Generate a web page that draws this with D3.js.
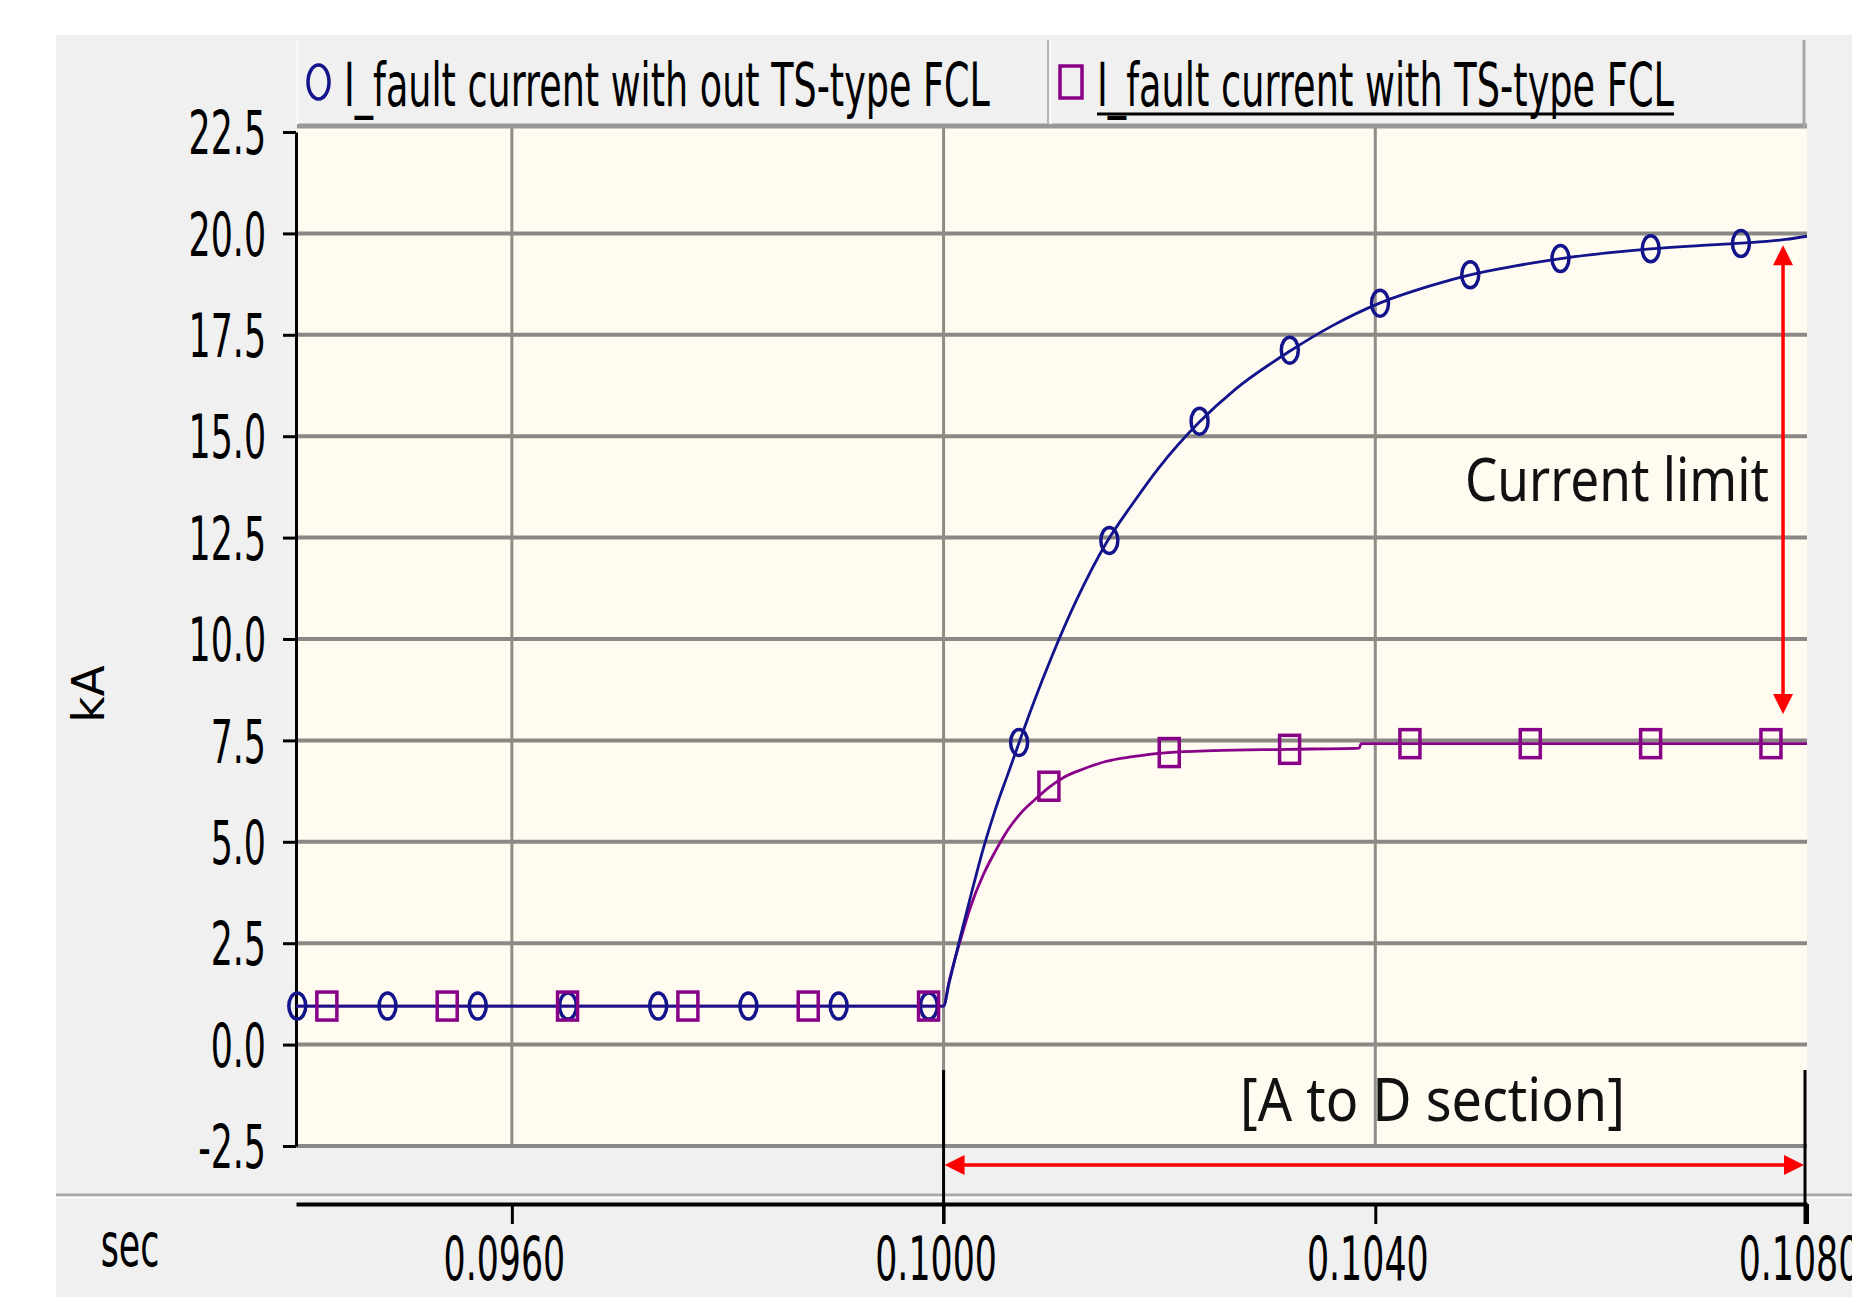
<!DOCTYPE html>
<html>
<head>
<meta charset="utf-8">
<script src="https://cdn.jsdelivr.net/npm/d3@7/dist/d3.min.js"></script>
<style>
  body { margin: 0; background: #fff; }
  svg { display: block; }
</style>
</head>
<body>
<div id="chart"></div>
<script>
const width = 1852;
const height = 1297;

// axis ticks
const yTicks = [-2.5, 0.0, 2.5, 5.0, 7.5, 10.0, 12.5, 15.0, 17.5, 20.0, 22.5];
const xTicks = [0.0960, 0.1000, 0.1040, 0.1080];

// fault current without TS-type FCL (kA vs sec)
const blueTime = [0.0940, 0.1000, 0.10005, 0.10015, 0.10025, 0.10037, 0.10048, 0.10060, 0.10070, 0.10083,
  0.10100, 0.10123, 0.10151, 0.10175, 0.10200, 0.10237, 0.10270, 0.10321, 0.10360, 0.10404,
  0.10450, 0.10488, 0.10530, 0.10572, 0.10615, 0.10655, 0.10700, 0.10739, 0.10780, 0.1080];
const blueKA = [0.95, 0.95, 1.50, 2.60, 3.65, 4.85, 5.80, 6.70, 7.45, 8.40,
  9.55, 10.95, 12.38, 13.33, 14.24, 15.35, 16.15, 17.10, 17.72, 18.28,
  18.70, 18.98, 19.20, 19.38, 19.52, 19.62, 19.70, 19.76, 19.85, 19.93];
const blueMarkTime = [0.094012, 0.094848, 0.095684, 0.096520, 0.097356, 0.098192, 0.099028, 0.099864,
  0.100700, 0.101536, 0.102372, 0.103208, 0.104044, 0.104880, 0.105716, 0.106552, 0.107388];
const blueMarkKA = [0.95, 0.95, 0.95, 0.95, 0.95, 0.95, 0.95, 0.95,
  7.45, 12.43, 15.37, 17.12, 18.28, 18.98, 19.38, 19.62, 19.75];

// fault current with TS-type FCL
const purpleTime = [0.0940, 0.1000, 0.10005, 0.10015, 0.10025, 0.10037, 0.10048, 0.10060, 0.10072, 0.10085,
  0.10098, 0.10112, 0.10130, 0.10150, 0.10175, 0.10208, 0.10250, 0.10320, 0.10385, 0.10387, 0.1080];
const purpleKA = [0.95, 0.95, 1.55, 2.52, 3.40, 4.20, 4.77, 5.31, 5.72, 6.05,
  6.35, 6.60, 6.80, 6.98, 7.10, 7.20, 7.25, 7.28, 7.31, 7.42, 7.42];
const purpleMarkTime = [0.094286, 0.095401, 0.096516, 0.097631, 0.098746, 0.099861,
  0.100976, 0.102091, 0.103206, 0.104321, 0.105436, 0.106551, 0.107666];
const purpleMarkKA = [0.95, 0.95, 0.95, 0.95, 0.95, 0.95,
  6.37, 7.20, 7.28, 7.42, 7.42, 7.42, 7.42];

const legendLabels = ["I_fault current with out TS-type FCL", "I_fault current with TS-type FCL"];

const blue = "#13138c";
const purple = "#880088";
const SQ = 0.58; // horizontal squeeze of the label font
const labelFont = "'DejaVu Sans', Verdana, sans-serif";
const noteFont = "'Noto Sans', 'Open Sans', sans-serif";

const x = d3.scaleLinear().domain([0.094, 0.108]).range([296, 1807]);
const y = d3.scaleLinear().domain([-2.5, 22.5]).range([1146, 132]);

const svg = d3.select("#chart").append("svg")
  .attr("width", width)
  .attr("height", height);

// text squeezed to a given width
const fitText = (g, px, py, str, w, font, size) => {
  const t = g.append("text")
    .attr("font-family", font).attr("font-size", size)
    .attr("fill", "#111")
    .text(str);
  const n = t.node().getComputedTextLength();
  t.attr("transform", `translate(${px},${py}) scale(${w / n},1)`);
  return t;
};

// window panel
svg.append("rect").attr("width", width).attr("height", height).attr("fill", "#fff");
svg.append("rect").attr("x", 56).attr("y", 35).attr("width", width - 56).attr("height", height - 35)
  .attr("fill", "#f0f0f0");

// plot area
const plotTop = 128;
const plotBottom = y(-2.5) + 2;
svg.append("rect")
  .attr("x", x(0.094)).attr("y", plotTop)
  .attr("width", x(0.108) - x(0.094)).attr("height", plotBottom - plotTop)
  .attr("fill", "#fffbf0");

svg.append("clipPath").attr("id", "clip").append("rect")
  .attr("x", x(0.094)).attr("y", plotTop)
  .attr("width", x(0.108) - x(0.094)).attr("height", plotBottom - plotTop);

// grid
svg.append("g").selectAll("line")
  .data(yTicks.filter(d => d < 22.5))
  .join("line")
  .attr("x1", x(0.094)).attr("x2", x(0.108))
  .attr("y1", d => y(d)).attr("y2", d => y(d))
  .attr("stroke", "#8a8884").attr("stroke-width", 4);

svg.append("g").selectAll("line")
  .data(xTicks.filter(d => d < 0.108))
  .join("line")
  .attr("x1", d => x(d)).attr("x2", d => x(d))
  .attr("y1", plotTop).attr("y2", plotBottom)
  .attr("stroke", "#8e8c88").attr("stroke-width", 3);

// y axis
const fmtY = d => d3.format(".1f")(d).replace("\u2212", "-");
const yAxis = svg.append("g")
  .attr("transform", `translate(${x(0.094)},0)`)
  .call(d3.axisLeft(y).tickValues(yTicks).tickSize(13).tickSizeOuter(0).tickFormat(fmtY));
yAxis.select(".domain").attr("stroke", "#000").attr("stroke-width", 3);
yAxis.selectAll(".tick line").attr("stroke", "#000").attr("stroke-width", 3);
yAxis.selectAll(".tick text")
  .attr("font-family", labelFont)
  .attr("font-size", 60)
  .attr("fill", "#000")
  .attr("x", -30 / SQ)
  .attr("dy", "0.36em")
  .attr("transform", `scale(${SQ},1)`);

// x axis strip
svg.append("line")
  .attr("x1", 56).attr("x2", width).attr("y1", 1195).attr("y2", 1195)
  .attr("stroke", "#a9a9a9").attr("stroke-width", 3);
svg.append("line")
  .attr("x1", 56).attr("x2", width).attr("y1", 1197.5).attr("y2", 1197.5)
  .attr("stroke", "#fafafa").attr("stroke-width", 2);

const xAxis = svg.append("g")
  .attr("transform", "translate(0,1204)")
  .call(d3.axisBottom(x).tickValues(xTicks).tickSize(20).tickSizeOuter(0).tickFormat(d3.format(".4f")));
xAxis.select(".domain").attr("stroke", "#000").attr("stroke-width", 4);
xAxis.selectAll(".tick line").attr("stroke", "#000").attr("stroke-width", 3);
xAxis.selectAll(".tick text")
  .attr("font-family", labelFont)
  .attr("font-size", 60)
  .attr("fill", "#000")
  .attr("x", -8 / SQ)
  .attr("y", 76)
  .attr("dy", 0)
  .attr("transform", `scale(${SQ},1)`);

// axis titles
svg.append("text")
  .attr("transform", `translate(130,1266) scale(${SQ},1)`)
  .attr("text-anchor", "middle")
  .attr("font-family", labelFont).attr("font-size", 60)
  .text("sec");
svg.append("text")
  .attr("transform", "translate(104,694) rotate(-90)")
  .attr("text-anchor", "middle")
  .attr("font-family", labelFont).attr("font-size", 45)
  .text("kA");

// series
const pairs = (ts, vs) => ts.map((t, i) => [t, vs[i]]);
const line = d3.line()
  .x(d => x(d[0]))
  .y(d => y(d[1]))
  .curve(d3.curveMonotoneX);

const series = svg.append("g").attr("clip-path", "url(#clip)");
series.append("path")
  .datum(pairs(purpleTime, purpleKA))
  .attr("d", line)
  .attr("fill", "none").attr("stroke", purple).attr("stroke-width", 2.8);
series.append("path")
  .datum(pairs(blueTime, blueKA))
  .attr("d", line)
  .attr("fill", "none").attr("stroke", blue).attr("stroke-width", 2.8);

svg.append("g").selectAll("ellipse")
  .data(pairs(blueMarkTime, blueMarkKA))
  .join("ellipse")
  .attr("cx", d => x(d[0])).attr("cy", d => y(d[1]))
  .attr("rx", 8.5).attr("ry", 13)
  .attr("fill", "none").attr("stroke", blue).attr("stroke-width", 3.5);

svg.append("g").selectAll("rect")
  .data(pairs(purpleMarkTime, purpleMarkKA))
  .join("rect")
  .attr("x", d => x(d[0]) - 10).attr("y", d => y(d[1]) - 14)
  .attr("width", 20).attr("height", 28)
  .attr("fill", "none").attr("stroke", purple).attr("stroke-width", 3.5);

// legend
const legend = svg.append("g");
legend.append("rect").attr("x", 297).attr("y", 40).attr("width", 1508).attr("height", 86)
  .attr("fill", "#f0f0f0");
legend.append("line").attr("x1", 297).attr("x2", 1807).attr("y1", 126).attr("y2", 126)
  .attr("stroke", "#9a9896").attr("stroke-width", 5);
legend.append("line").attr("x1", 1804).attr("x2", 1804).attr("y1", 40).attr("y2", 128)
  .attr("stroke", "#a6a6a6").attr("stroke-width", 3);
legend.append("line").attr("x1", 297.5).attr("x2", 297.5).attr("y1", 40).attr("y2", 124)
  .attr("stroke", "#fbfbfb").attr("stroke-width", 2);
legend.append("line").attr("x1", 1048).attr("x2", 1048).attr("y1", 40).attr("y2", 124)
  .attr("stroke", "#b4b4b4").attr("stroke-width", 2);
legend.append("line").attr("x1", 1050.5).attr("x2", 1050.5).attr("y1", 40).attr("y2", 124)
  .attr("stroke", "#fbfbfb").attr("stroke-width", 2);

legend.append("ellipse")
  .attr("cx", 318.5).attr("cy", 82).attr("rx", 10.5).attr("ry", 17)
  .attr("fill", "none").attr("stroke", blue).attr("stroke-width", 3.5);
legend.append("rect")
  .attr("x", 1060).attr("y", 66).attr("width", 22).attr("height", 32)
  .attr("fill", "none").attr("stroke", purple).attr("stroke-width", 3.5);

fitText(legend, 344, 106, legendLabels[0], 646, labelFont, 60).attr("fill", "#000");
fitText(legend, 1097, 106, legendLabels[1], 577, labelFont, 60).attr("fill", "#000");
legend.append("line").attr("x1", 1097).attr("x2", 1674).attr("y1", 114).attr("y2", 114)
  .attr("stroke", "#000").attr("stroke-width", 3);

// annotations
const red = "#ff0000";
const head = (px, py, dir) => {
  // dir: unit vector the tip points to
  const [dx, dy] = dir, L = 20, W = 10;
  const bx = px - dx * L, by = py - dy * L;
  return `M${px},${py}L${bx - dy * W},${by + dx * W}L${bx + dy * W},${by - dx * W}Z`;
};
const notes = svg.append("g");

// current limit arrow
const ax = x(0.107778), ay1 = y(19.71), ay2 = y(8.15);
notes.append("line").attr("x1", ax).attr("x2", ax).attr("y1", ay1 + 15).attr("y2", ay2 - 15)
  .attr("stroke", red).attr("stroke-width", 3.5);
notes.append("path").attr("d", head(ax, ay1, [0, -1])).attr("fill", red);
notes.append("path").attr("d", head(ax, ay2, [0, 1])).attr("fill", red);
fitText(notes, x(0.104831), y(13.40), "Current limit", 304, noteFont, 60);

// A to D section
const sx1 = x(0.100), sx2 = x(0.108), sy = 1165;
notes.append("line").attr("x1", sx1).attr("x2", sx1).attr("y1", 1070).attr("y2", 1224)
  .attr("stroke", "#000").attr("stroke-width", 3);
notes.append("line").attr("x1", sx2 - 2).attr("x2", sx2 - 2).attr("y1", 1070).attr("y2", 1224)
  .attr("stroke", "#000").attr("stroke-width", 3);
notes.append("line").attr("x1", sx1 + 15).attr("x2", sx2 - 17).attr("y1", sy).attr("y2", sy)
  .attr("stroke", red).attr("stroke-width", 3.5);
notes.append("path").attr("d", head(sx1 + 1, sy, [-1, 0])).attr("fill", red);
notes.append("path").attr("d", head(sx2 - 3, sy, [1, 0])).attr("fill", red);
fitText(notes, x(0.102747), y(-1.88), "[A to D section]", 385, noteFont, 60);
</script>
</body>
</html>
